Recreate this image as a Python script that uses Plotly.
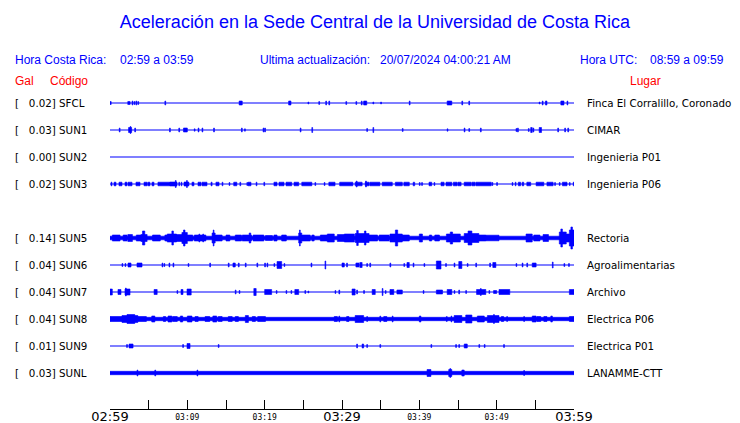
import plotly.graph_objects as go

# ---------------- data ----------------
TITLE = "Aceleración en la Sede Central de la Universidad de Costa Rica"
HORA_CR = "02:59 a 03:59"
HORA_UTC = "08:59 a 09:59"
ULTIMA = "20/07/2024 04:00:21 AM"

codes = ["SFCL", "SUN1", "SUN2", "SUN3", "SUN5", "SUN6", "SUN7", "SUN8", "SUN9", "SUNL"]
gal = [0.02, 0.03, 0.00, 0.02, 0.14, 0.04, 0.04, 0.04, 0.01, 0.03]
places = ["Finca El Corralillo, Coronado", "CIMAR", "Ingenieria P01", "Ingenieria P06",
          "Rectoria", "Agroalimentarias", "Archivo", "Electrica P06", "Electrica P01",
          "LANAMME-CTT"]
rows = [0, 1, 2, 3, 5, 6, 7, 8, 9, 10]          # SUN4 slot left empty
base_amp = [0, 0, 0, 0, 1.8, 0, 0, 1.7, 0, 1.7]  # steady noise half-amplitude (0 = quiet)

# minutes after 02:59 for the x axis
tick_minutes = list(range(0, 61, 5))
small_tick_minutes = [10, 20, 40, 50]
small_tick_labels = ["03:09", "03:19", "03:39", "03:49"]
big_tick_minutes = [0, 30, 60]
big_tick_labels = ["02:59", "03:29", "03:59"]

# bursts: [start minute, end minute, half amplitude]
SFCL_EV = [[0.0, 0.15, 1.5], [2.3, 2.6, 1.5], [2.85, 2.95, 2], [3.1, 3.2, 1.5], [3.35, 3.45, 2],
           [3.6, 3.7, 1.5], [7.1, 7.2, 2], [16.7, 17.1, 2], [23.1, 23.4, 2], [25.6, 25.7, 1],
           [27.0, 27.1, 1.5], [27.9, 28.0, 2], [28.3, 28.4, 2], [30.5, 30.6, 1.5], [31.8, 31.9, 1.5],
           [32.5, 32.6, 2], [32.8, 33.2, 2], [34.0, 34.1, 1], [35.0, 35.1, 1], [38.7, 38.8, 2],
           [43.6, 44.2, 2], [45.5, 45.6, 2], [46.4, 46.5, 2], [55.5, 55.6, 1], [55.9, 56.0, 2],
           [56.3, 56.5, 2], [58.3, 58.7, 2], [59.1, 59.2, 2]]
SUN1_EV = [[1.2, 1.3, 2], [2.4, 2.8, 2.5], [2.6, 2.7, 3.5], [3.2, 3.3, 2], [7.7, 7.8, 2],
           [8.9, 9.0, 2], [9.5, 10.0, 2], [10.9, 11.0, 1.2], [11.4, 11.5, 2], [11.9, 12.0, 2],
           [13.4, 13.5, 2], [17.0, 17.1, 2], [17.4, 17.5, 1.2], [19.8, 19.9, 2], [20.0, 20.1, 2],
           [24.6, 24.7, 2], [26.1, 26.2, 2.5], [33.2, 33.3, 1.5], [34.0, 34.1, 2.5], [37.8, 37.9, 1.5],
           [43.6, 43.7, 1.2], [45.8, 45.9, 2], [46.4, 46.5, 1.5], [47.9, 48.0, 2], [52.5, 52.6, 1.5],
           [52.7, 52.8, 2], [54.1, 54.2, 1.5], [54.4, 54.6, 2.5], [54.7, 54.8, 2], [55.5, 55.8, 2.5],
           [57.9, 58.0, 2], [58.8, 58.9, 2], [59.2, 59.3, 2]]
SUN2_EV = []
SUN3_EV = [[0.13, 0.26, 1.8], [0.52, 0.78, 1.8], [1.16, 1.55, 1.8], [1.94, 2.2, 1.8], [2.33, 2.85, 1.8],
           [3.36, 3.88, 1.8], [4.4, 4.8, 1.8], [4.9, 5.17, 1.8], [5.43, 5.69, 1.8], [6.2, 7.76, 1.8],
           [7.76, 8.66, 2], [8.45, 8.55, 3.5], [8.9, 9.0, 1.8], [9.2, 9.3, 1.8], [9.57, 10.2, 2],
           [9.9, 10.0, 3.5], [10.6, 10.86, 1.8], [11.38, 11.77, 1.8], [11.9, 12.54, 1.8], [13.06, 13.2, 1.8],
           [13.7, 14.1, 1.8], [14.5, 14.6, 1.8], [15.4, 15.5, 1.5], [16.0, 16.4, 1.8], [16.8, 16.9, 1.8],
           [17.7, 17.8, 1.5], [17.85, 18.23, 1.8], [18.9, 19.0, 1.8], [19.9, 20.0, 1.8], [21.2, 21.6, 1.8],
           [21.85, 22.5, 1.8], [22.76, 23.5, 1.8], [23.8, 24.4, 1.8], [24.8, 26.1, 1.8], [26.5, 26.6, 1.5],
           [27.7, 27.8, 1.5], [28.3, 29.1, 1.8], [29.7, 31.4, 1.8], [31.7, 32.6, 1.8], [31.85, 31.95, 3],
           [33.0, 33.5, 1.8], [33.05, 33.15, 3], [33.6, 34.9, 1.8], [35.2, 36.5, 1.8], [36.9, 37.8, 1.8],
           [38.0, 38.7, 1.8], [39.2, 39.4, 1.8], [40.0, 40.1, 1.5], [40.3, 40.4, 1.5], [41.25, 41.6, 1.8],
           [41.9, 42.0, 1.5], [42.8, 43.2, 1.8], [43.45, 44.2, 1.8], [44.4, 44.9, 1.8], [45.0, 45.4, 1.8],
           [45.8, 46.7, 1.8], [46.8, 47.2, 1.8], [47.3, 49.3, 1.8], [49.4, 49.5, 1.5], [50.0, 50.1, 1.5],
           [52.0, 52.1, 1.5], [52.4, 52.5, 1.8], [52.8, 53.1, 1.8], [53.3, 53.5, 1.8], [53.9, 54.4, 1.8],
           [55.1, 56.1, 1.8], [56.5, 57.3, 1.8], [57.5, 57.6, 1.5], [58.1, 58.2, 1.5], [58.5, 59.1, 1.8],
           [59.4, 59.5, 1.5], [59.9, 60.0, 1.8]]
SUN5_EV = [[0.3, 1.3, 3], [1.7, 2.2, 3], [2.3, 2.9, 3.5], [3.4, 4.0, 3], [4.0, 4.8, 3.5], [4.2, 4.5, 7],
           [5.5, 6.5, 3], [7.1, 7.4, 3], [7.4, 8.6, 4], [8.0, 8.2, 7], [8.6, 9.3, 3.5], [9.3, 10.0, 5.5],
           [9.5, 9.7, 8], [10.0, 10.7, 3], [10.9, 12.4, 3], [11.5, 11.6, 4], [12.0, 12.1, 4],
           [13.2, 13.6, 5], [13.35, 13.45, 8], [13.6, 14.5, 3], [15.0, 15.5, 3], [16.2, 17.0, 3],
           [17.1, 18.3, 3], [18.0, 18.2, 5], [18.5, 19.9, 3], [20.1, 21.0, 2.5], [21.2, 21.6, 3],
           [22.2, 22.8, 3], [24.4, 24.8, 5], [24.5, 24.6, 8], [24.8, 25.9, 3], [26.1, 26.4, 3],
           [27.2, 28.1, 3], [28.1, 29.0, 4], [29.4, 30.3, 3.5], [30.3, 31.6, 4], [31.7, 33.5, 4.5],
           [31.9, 32.1, 7.5], [32.9, 33.1, 7], [33.5, 34.6, 3], [34.8, 36.1, 3], [36.2, 37.8, 4],
           [36.9, 37.2, 8], [37.8, 38.7, 3], [40.0, 40.4, 4], [41.3, 41.6, 3], [42.0, 42.6, 3],
           [43.5, 45.3, 4], [44.0, 44.3, 6], [45.8, 47.7, 4.5], [46.3, 46.8, 7], [47.7, 48.6, 3],
           [48.6, 50.3, 2.8], [53.8, 54.6, 4], [54.8, 55.6, 3], [56.0, 56.7, 3.5], [58.1, 59.0, 6],
           [58.3, 58.5, 9], [59.0, 59.4, 4], [59.4, 60.0, 8], [59.6, 59.8, 11]]
SUN6_EV = [[1.55, 1.65, 1.5], [1.94, 2.04, 1.5], [2.33, 2.72, 2], [3.49, 4.14, 2], [6.73, 6.83, 2],
           [6.98, 7.08, 1.5], [7.63, 7.73, 2], [8.15, 8.25, 2], [10.1, 10.2, 1.5], [12.9, 13.0, 2],
           [15.3, 15.4, 2], [15.9, 16.2, 2], [16.6, 16.7, 2], [17.5, 17.6, 2], [19.0, 19.1, 2],
           [20.0, 20.1, 2], [20.3, 20.4, 2], [21.2, 21.3, 1.5], [21.6, 22.2, 3.5], [22.5, 22.6, 1.5],
           [26.0, 26.1, 2], [27.8, 27.9, 4], [30.0, 30.3, 2], [30.6, 30.7, 2], [31.8, 32.2, 2],
           [32.3, 32.6, 2.5], [33.2, 33.3, 1.5], [33.6, 33.7, 2], [36.2, 36.3, 2], [38.0, 38.1, 1.5],
           [38.4, 38.7, 2.5], [39.2, 39.3, 2], [40.6, 40.7, 1.5], [42.2, 42.8, 4], [43.4, 43.5, 1.5],
           [44.5, 44.6, 2], [45.1, 45.5, 3.5], [46.2, 46.3, 1.5], [47.3, 47.4, 2], [49.1, 49.2, 2],
           [49.5, 49.9, 2.5], [52.5, 52.6, 1.5], [53.3, 53.4, 2], [53.9, 54.0, 2], [54.6, 55.1, 2],
           [57.2, 57.3, 3], [58.7, 58.8, 1.5], [59.3, 59.4, 1.5]]
SUN7_EV = [[0.0, 0.3, 3], [1.03, 1.42, 2.5], [1.94, 2.59, 3], [2.0, 2.1, 4], [5.7, 6.1, 2.5],
           [8.66, 8.76, 1.5], [9.18, 9.44, 2.5], [9.96, 10.5, 3], [16.2, 16.3, 2], [16.7, 16.8, 1.5],
           [18.6, 18.9, 3.5], [20.0, 20.9, 2.5], [21.5, 21.6, 1.5], [22.76, 22.86, 1.5], [23.4, 23.5, 1.5],
           [23.9, 24.4, 2.5], [25.2, 25.3, 1.5], [25.6, 25.7, 1], [29.1, 29.2, 1.5], [29.6, 29.7, 2],
           [31.3, 31.7, 3], [31.9, 32.0, 2], [32.8, 32.9, 1.5], [33.9, 34.3, 2.5], [35.2, 35.3, 3.5],
           [35.6, 35.7, 1.5], [36.2, 36.7, 2.5], [37.1, 37.8, 2], [40.5, 40.6, 1.5], [42.2, 43.0, 2],
           [43.6, 44.2, 2.5], [44.5, 44.6, 1.5], [45.1, 45.2, 2], [46.0, 46.1, 1.5], [47.4, 48.6, 2.5],
           [47.9, 48.0, 3.5], [49.0, 49.1, 1.5], [49.6, 50.0, 1.5], [50.3, 51.7, 2.5], [59.4, 60.0, 2.5]]
SUN8_EV = [[0.0, 1.55, 2.5], [1.55, 3.6, 3.5], [2.2, 3.2, 4.5], [3.6, 4.7, 2.5], [5.4, 5.8, 3],
           [6.9, 7.2, 2.5], [7.5, 8.0, 3], [8.1, 8.7, 2.5], [9.1, 9.4, 3], [10.0, 10.6, 3],
           [11.0, 11.4, 2.5], [12.3, 12.9, 2.5], [13.3, 13.8, 3], [14.0, 14.5, 2.5], [15.3, 15.8, 2.5],
           [16.2, 16.6, 2.5], [17.5, 17.9, 3.5], [18.4, 18.8, 2.5], [19.1, 20.1, 2.5], [29.0, 29.4, 2.5],
           [29.6, 29.7, 3], [30.6, 30.9, 2.5], [31.7, 32.8, 3.5], [33.2, 33.3, 2.5], [34.9, 35.0, 3],
           [35.4, 35.8, 2.5], [36.5, 36.6, 3], [40.0, 40.2, 3], [43.5, 43.6, 2.5], [44.1, 44.2, 3],
           [44.5, 45.5, 3.5], [46.0, 46.8, 4], [47.5, 48.4, 3], [48.8, 50.3, 3.5], [49.6, 49.7, 4.5],
           [50.6, 50.9, 2.5], [51.3, 51.4, 2.5], [53.5, 53.6, 2.5], [54.6, 55.1, 3], [55.2, 55.7, 2.5],
           [56.1, 56.5, 2.5], [57.0, 57.2, 3], [59.4, 60.0, 2.5]]
SUN9_EV = [[2.15, 2.25, 1.5], [2.46, 2.98, 2], [9.4, 9.5, 1.5], [9.96, 10.35, 2.5], [14.0, 14.1, 1.5],
           [31.9, 32.0, 2], [32.6, 32.8, 2], [33.2, 33.3, 1.5], [34.9, 35.0, 1.5], [41.5, 41.6, 1.5],
           [44.7, 44.8, 1.5], [45.1, 45.2, 1.5], [45.8, 46.2, 2], [47.7, 47.8, 1.5], [48.4, 48.5, 1.5],
           [50.9, 51.0, 1.5]]
SUNL_EV = [[3.5, 3.6, 3], [5.8, 5.9, 3], [11.25, 11.35, 3], [41.0, 41.5, 3.5], [43.8, 44.2, 3.5],
           [43.95, 44.05, 4.5], [45.5, 45.8, 3], [53.5, 53.6, 2.5]]
events = [SFCL_EV, SUN1_EV, SUN2_EV, SUN3_EV, SUN5_EV, SUN6_EV, SUN7_EV, SUN8_EV, SUN9_EV, SUNL_EV]

# ---------------- style ----------------
BLUE = "#0000ff"
RED = "#ff0000"
ROW_PITCH = 27          # vertical units between station rows
PAD = 8                 # page body margin around the figure
TXT_PAD = 2             # annotation inner padding
W, H = 740 - PAD, 423 - PAD
ML, MT, MB = 110 - PAD, 90 - PAD, 14
PW = 464
MR = W - ML - PW
PH = H - MT - MB

def px_x(px):
    return (px - PAD - TXT_PAD - ML) / PW

def px_y(py):
    return (H - MB - (py - PAD)) / PH

fig = go.Figure()

for code, amp0, row, evs in zip(codes, base_amp, rows, events):
    off = -row * ROW_PITCH
    xs, ys = [], []
    blocks = ([[0, 60, amp0]] if amp0 > 0 else []) + evs
    for t0, t1, a in blocks:
        xs += [t0, t1, t1, t0, t0, None]
        ys += [off - a, off - a, off + a, off + a, off - a, None]
    if amp0 == 0:
        fig.add_trace(go.Scatter(x=[0, 60], y=[off, off], mode="lines",
                                 line=dict(color=BLUE, width=1.2),
                                 hoverinfo="skip", showlegend=False))
    if xs:
        fig.add_trace(go.Scatter(x=xs, y=ys, mode="lines", fill="toself",
                                 fillcolor=BLUE, line=dict(color=BLUE, width=0.6),
                                 hoverinfo="skip", showlegend=False))

# carrier for the second (large label) x axis
fig.add_trace(go.Scatter(x=[0, 60], y=[0, 0], xaxis="x2", mode="lines",
                         line=dict(width=0, color="rgba(0,0,0,0)"),
                         hoverinfo="skip", showlegend=False))

ann = []
LBL_FONT = dict(family="DejaVu Sans", size=10.3, color="black")
NB = "\u00a0"
for code, g, place, row in zip(codes, gal, places, rows):
    off = -row * ROW_PITCH
    ann.append(dict(x=px_x(15), xref="paper", y=off, yref="y", xanchor="left", yanchor="middle",
                    text=f"[{NB*3}{g:.2f}]{NB}{code}", showarrow=False, font=LBL_FONT))
    ann.append(dict(x=px_x(587), xref="paper", y=off, yref="y", xanchor="left", yanchor="middle",
                    text=place, showarrow=False, font=LBL_FONT))

HDR = dict(family="Liberation Sans, Arial", size=12, color=BLUE)
HDR_R = dict(family="Liberation Sans, Arial", size=12, color=RED)
for txt, x, y, f in [("Hora Costa Rica:", 15, 60, HDR), (HORA_CR, 120, 60, HDR),
                     ("Ultima actualización:", 260, 60, HDR), (ULTIMA, 380, 60, HDR),
                     ("Hora UTC:", 580, 60, HDR), (HORA_UTC, 650, 60, HDR),
                     ("Gal", 15, 81, HDR_R), ("Código", 50, 81, HDR_R), ("Lugar", 630, 81, HDR_R)]:
    ann.append(dict(x=px_x(x), xref="paper", y=px_y(y), yref="paper", xanchor="left",
                    yanchor="middle", text=txt, showarrow=False, font=f))

fig.update_layout(
    width=W, height=H,
    margin=dict(l=ML, r=MR, t=MT, b=MB),
    paper_bgcolor="white", plot_bgcolor="white",
    title=dict(text=TITLE, x=(375 - PAD) / W, xanchor="center", y=1 - (22 - PAD) / H,
               yanchor="middle",
               font=dict(family="Liberation Sans, Arial", size=18, color=BLUE)),
    xaxis=dict(range=[0, 60], tickvals=tick_minutes,
               ticktext=[small_tick_labels[small_tick_minutes.index(m)] if m in small_tick_minutes else ""
                         for m in tick_minutes],
               ticks="inside", ticklen=9, tickwidth=1, tickcolor="black",
               showline=True, linecolor="black", linewidth=1, showgrid=False, zeroline=False,
               tickfont=dict(family="DejaVu Sans Mono", size=8, color="black"),
               automargin=False, fixedrange=True),
    xaxis2=dict(range=[0, 60], overlaying="x", anchor="free", position=2 / PH, side="bottom",
                tickvals=big_tick_minutes, ticktext=big_tick_labels, ticks="",
                showline=False, showgrid=False, zeroline=False,
                tickfont=dict(family="DejaVu Sans", size=13, color="black"),
                automargin=False, fixedrange=True),
    yaxis=dict(range=[-(10 * ROW_PITCH) - 36, 13], visible=False, showgrid=False,
               zeroline=False, fixedrange=True),
    annotations=ann,
    showlegend=False,
    hovermode=False,
)

fig.write_html("out.html")
